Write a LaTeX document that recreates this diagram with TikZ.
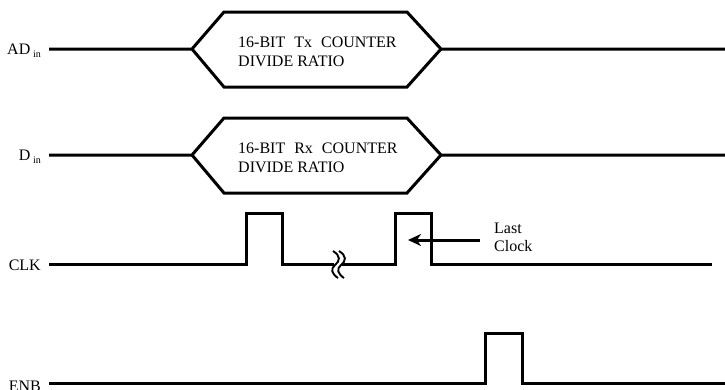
\documentclass[tikz,border=0pt]{standalone}
\usepackage{fontspec}
\setmainfont{Liberation Serif}
\usetikzlibrary{arrows.meta}

\begin{document}
\begin{tikzpicture}[x=1pt,y=-1pt,
    sig/.style={line width=3pt,line join=miter},
    brk/.style={line width=1.9pt},
    lbl/.style={font=\fontsize{16}{19}\selectfont,inner sep=0pt},
    sub/.style={font=\fontsize{10}{12}\selectfont}]
  \useasboundingbox (0,0) rectangle (725,389);

  % the two serial inputs carrying the divide ratio
  \foreach \y/\name/\sig/\txt in {49/ad/AD/Tx,155/d/D/Rx}{
    \coordinate (\name-start) at (49,\y);
    \coordinate (\name-end)   at (725,\y);
    \node[lbl,anchor=base east] (\name-lbl) at (41,\y+5)
      {\sig\,\raisebox{-3pt}{\fontsize{10}{12}\selectfont in}};
    \draw[sig] (\name-start) -- (192,\y) -- (224,\y-37) -- (407,\y-37)
      -- (441,\y) -- (\name-end);
    \draw[sig] (192,\y) -- (224,\y+38) -- (407,\y+38) -- (441,\y);
    \node[lbl,anchor=base west] (\name-top) at (238,\y-2)
      {16-BIT\hspace{9pt}\txt\hspace{9pt}COUNTER};
    \node[lbl,anchor=base west] (\name-bot) at (238,\y+17) {DIVIDE RATIO};
  }

  % clock with the break
  \coordinate (clk-start) at (49,264);
  \coordinate (clk-end)   at (712,264);
  \node[lbl,anchor=base east] (clk-lbl) at (41,270) {CLK};
  \draw[sig] (clk-start) -- (246,264) -- (246,213) -- (282,213) -- (282,264)
    -- (334,264);
  \draw[sig] (342,264) -- (395,264) -- (395,213) -- (431,213) -- (431,264)
    -- (clk-end);
  \foreach \dx in {0,6}{% two wavy strokes of the break
    \draw[brk] (333+\dx,251) .. controls (341+\dx,256) and (340+\dx,261) .. (335+\dx,265)
      .. controls (330+\dx,269) and (332+\dx,274) .. (338+\dx,278);
  }

  % last clock marker
  \node[lbl,anchor=base west] (last)  at (494,233) {Last};
  \node[lbl,anchor=base west] (clock) at (494,251) {Clock};
  \coordinate (arrowtail) at (480,240);
  \coordinate (lasttip)   at (408,240);
  \draw[sig,-{Stealth[length=13pt,width=12pt,inset=4pt]}] (arrowtail) -- (lasttip);

  % enable
  \coordinate (enb-start) at (49,383);
  \coordinate (enb-end)   at (725,383);
  \node[lbl,anchor=base east] (enb-lbl) at (41,391) {ENB};
  \draw[sig] (enb-start) -- (485,383) -- (485,333) -- (522,333) -- (522,383)
    -- (enb-end);
\end{tikzpicture}
\end{document}
